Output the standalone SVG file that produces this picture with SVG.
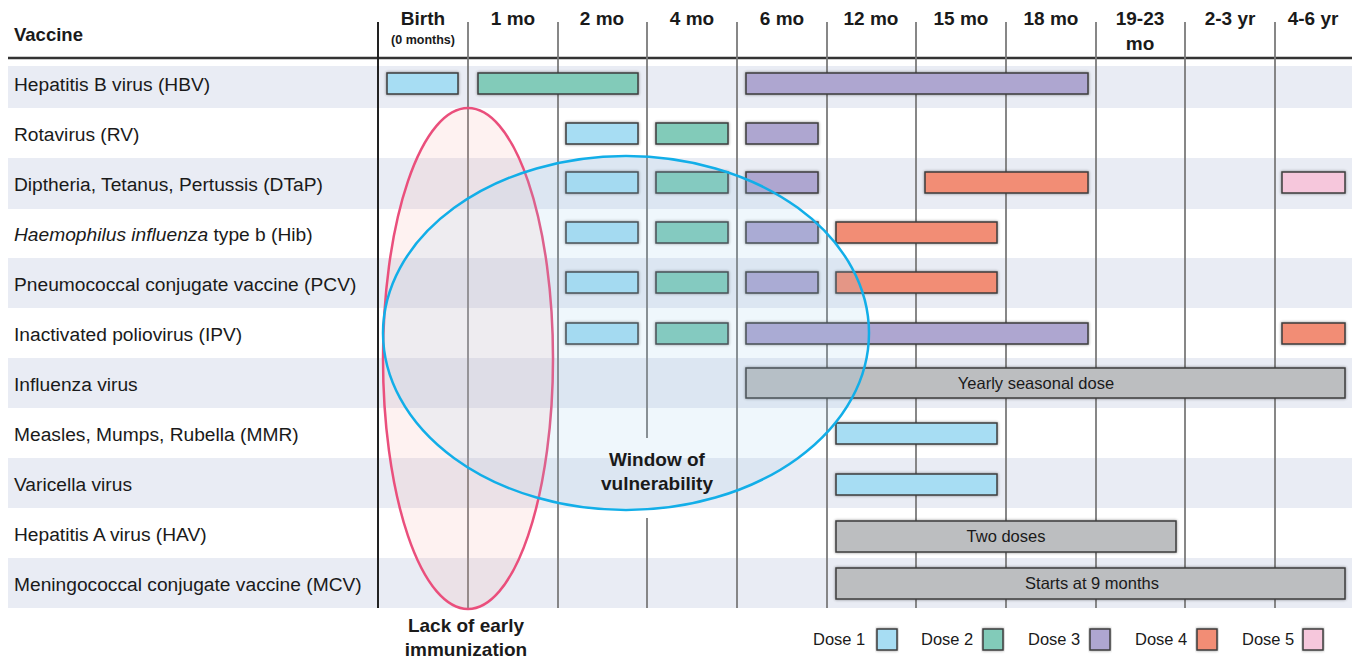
<svg xmlns="http://www.w3.org/2000/svg" width="1359" height="662" viewBox="0 0 1359 662">
<style>
text{font-family:"Liberation Sans",Arial,sans-serif;fill:#1a1a1a}
.lbl{font-size:19.2px}
.hdr{font-size:19px;font-weight:bold;text-anchor:middle}
.sub{font-size:12.5px;font-weight:bold;text-anchor:middle}
.band{fill:#e9ecf4}
.vl{stroke:#7a7a7a;stroke-width:1.8}
.bar{stroke:#3d3d3d;stroke-width:1.5;filter:url(#sh)}
.d1{fill:#a7ddf3}.d2{fill:#82cbb9}.d3{fill:#aea6d0}.d4{fill:#f28d74}.d5{fill:#f6c7dc}.gr{fill:#bcbec0}
.bt{font-size:16.5px;text-anchor:middle}
.big{font-size:19px;font-weight:bold;text-anchor:middle}
.leg{font-size:16.5px}
</style>
<defs>
<filter id="sh" x="-10%" y="-40%" width="120%" height="180%">
<feGaussianBlur in="SourceAlpha" stdDeviation="1.6"/>
<feComponentTransfer><feFuncA type="linear" slope="0.45"/></feComponentTransfer>
<feMerge><feMergeNode/><feMergeNode in="SourceGraphic"/></feMerge>
</filter>
</defs>
<rect width="1359" height="662" fill="#ffffff"/>
<g id="bands">
<rect class="band" x="8" y="66" width="1344" height="42"/>
<rect class="band" x="8" y="158" width="1344" height="51"/>
<rect class="band" x="8" y="258" width="1344" height="50"/>
<rect class="band" x="8" y="358" width="1344" height="50"/>
<rect class="band" x="8" y="458" width="1344" height="50"/>
<rect class="band" x="8" y="558" width="1344" height="50"/>
</g>
<g id="grid">
<line x1="8" y1="58" x2="1352" y2="58" stroke="#333" stroke-width="2.5"/>
<line x1="378" y1="22" x2="378" y2="608" stroke="#222" stroke-width="2"/>
<line class="vl" x1="468" y1="22" x2="468" y2="608"/>
<line class="vl" x1="558" y1="22" x2="558" y2="608"/>
<line class="vl" x1="647" y1="22" x2="647" y2="438"/>
<line class="vl" x1="647" y1="518" x2="647" y2="608"/>
<line class="vl" x1="737" y1="22" x2="737" y2="608"/>
<line class="vl" x1="827" y1="22" x2="827" y2="608"/>
<line class="vl" x1="916" y1="22" x2="916" y2="608"/>
<line class="vl" x1="1006" y1="22" x2="1006" y2="608"/>
<line class="vl" x1="1096" y1="22" x2="1096" y2="608"/>
<line class="vl" x1="1185" y1="22" x2="1185" y2="608"/>
<line class="vl" x1="1275" y1="22" x2="1275" y2="608"/>
</g>
<g id="header">
<text x="14" y="41" style="font-size:18.5px;font-weight:bold">Vaccine</text>
<text class="hdr" x="423" y="25">Birth</text>
<text class="sub" x="423" y="44">(0 months)</text>
<text class="hdr" x="513" y="25">1 mo</text>
<text class="hdr" x="602" y="25">2 mo</text>
<text class="hdr" x="692" y="25">4 mo</text>
<text class="hdr" x="782" y="25">6 mo</text>
<text class="hdr" x="871" y="25">12 mo</text>
<text class="hdr" x="961" y="25">15 mo</text>
<text class="hdr" x="1051" y="25">18 mo</text>
<text class="hdr" x="1140" y="25">19-23</text>
<text class="hdr" x="1140" y="50">mo</text>
<text class="hdr" x="1230" y="25">2-3 yr</text>
<text class="hdr" x="1313" y="25">4-6 yr</text>
</g>
<g id="row-hbv">
<text class="lbl" x="14" y="91">Hepatitis B virus (HBV)</text>
<rect class="bar d1" x="387" y="73" width="71" height="21"/>
<rect class="bar d2" x="478" y="73" width="160" height="21"/>
<rect class="bar d3" x="746" y="73" width="342" height="21"/>
</g>
<g id="row-rv">
<text class="lbl" x="14" y="141">Rotavirus (RV)</text>
<rect class="bar d1" x="566" y="123" width="72" height="21"/>
<rect class="bar d2" x="656" y="123" width="72" height="21"/>
<rect class="bar d3" x="746" y="123" width="72" height="21"/>
</g>
<g id="row-dtap">
<text class="lbl" x="14" y="191">Diptheria, Tetanus, Pertussis (DTaP)</text>
<rect class="bar d1" x="566" y="172" width="72" height="21"/>
<rect class="bar d2" x="656" y="172" width="72" height="21"/>
<rect class="bar d3" x="746" y="172" width="72" height="21"/>
<rect class="bar d4" x="925" y="172" width="163" height="21"/>
<rect class="bar d5" x="1282" y="172" width="63" height="21"/>
</g>
<g id="row-hib">
<text class="lbl" x="14" y="241"><tspan font-style="italic">Haemophilus influenza</tspan> type b (Hib)</text>
<rect class="bar d1" x="566" y="222" width="72" height="21"/>
<rect class="bar d2" x="656" y="222" width="72" height="21"/>
<rect class="bar d3" x="746" y="222" width="72" height="21"/>
<rect class="bar d4" x="836" y="222" width="161" height="21"/>
</g>
<g id="row-pcv">
<text class="lbl" x="14" y="291">Pneumococcal conjugate vaccine (PCV)</text>
<rect class="bar d1" x="566" y="272" width="72" height="21"/>
<rect class="bar d2" x="656" y="272" width="72" height="21"/>
<rect class="bar d3" x="746" y="272" width="72" height="21"/>
<rect class="bar d4" x="836" y="272" width="161" height="21"/>
</g>
<g id="row-ipv">
<text class="lbl" x="14" y="341">Inactivated poliovirus (IPV)</text>
<rect class="bar d1" x="566" y="323" width="72" height="21"/>
<rect class="bar d2" x="656" y="323" width="72" height="21"/>
<rect class="bar d3" x="746" y="323" width="342" height="21"/>
<rect class="bar d4" x="1282" y="323" width="63" height="21"/>
</g>
<g id="row-flu">
<text class="lbl" x="14" y="391">Influenza virus</text>
<rect class="bar gr" x="746" y="368" width="599" height="30"/>
<text class="bt" x="1036" y="389">Yearly seasonal dose</text>
</g>
<g id="row-mmr">
<text class="lbl" x="14" y="441">Measles, Mumps, Rubella (MMR)</text>
<rect class="bar d1" x="836" y="423" width="161" height="21"/>
</g>
<g id="row-var">
<text class="lbl" x="14" y="491">Varicella virus</text>
<rect class="bar d1" x="836" y="474" width="161" height="21"/>
</g>
<g id="row-hav">
<text class="lbl" x="14" y="541">Hepatitis A virus (HAV)</text>
<rect class="bar gr" x="836" y="521" width="340" height="31"/>
<text class="bt" x="1006" y="542">Two doses</text>
</g>
<g id="row-mcv">
<text class="lbl" x="14" y="591">Meningococcal conjugate vaccine (MCV)</text>
<rect class="bar gr" x="836" y="568" width="509" height="31"/>
<text class="bt" x="1092" y="589">Starts at 9 months</text>
</g>
<g id="lack-early">
<ellipse cx="468" cy="358.5" rx="85" ry="250.5" fill="rgb(245,170,160)" fill-opacity="0.15" stroke="#ea4f7c" stroke-width="2.5"/>
<text class="big" x="466" y="632">Lack of early</text>
<text class="big" x="466" y="656">immunization</text>
</g>
<g id="window">
<ellipse cx="626" cy="333" rx="243" ry="177" fill="rgb(150,200,235)" fill-opacity="0.15" stroke="#12aee8" stroke-width="2.5"/>
<text class="big" x="657" y="466">Window of</text>
<text class="big" x="657" y="490">vulnerability</text>
</g>
<g id="legend">
<text class="leg" x="813" y="645">Dose 1</text>
<rect class="bar d1" x="877" y="629" width="20" height="21"/>
<text class="leg" x="921" y="645">Dose 2</text>
<rect class="bar d2" x="983" y="629" width="20" height="21"/>
<text class="leg" x="1028" y="645">Dose 3</text>
<rect class="bar d3" x="1090" y="629" width="20" height="21"/>
<text class="leg" x="1135" y="645">Dose 4</text>
<rect class="bar d4" x="1197" y="629" width="20" height="21"/>
<text class="leg" x="1242" y="645">Dose 5</text>
<rect class="bar d5" x="1303" y="629" width="20" height="21"/>
</g>
</svg>
